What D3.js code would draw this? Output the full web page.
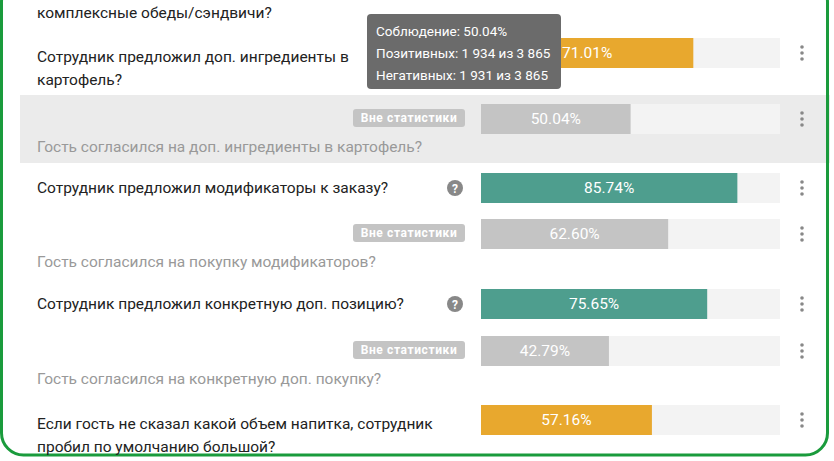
<!DOCTYPE html><html><head><meta charset="utf-8">
<script src="https://cdn.jsdelivr.net/npm/d3@7"></script>
<style>body{margin:0;background:#fff}text{font-family:Roboto,sans-serif}</style></head><body>
<svg id="c" width="834" height="461"></svg>
<script>
const questions=[["Сотрудник предложил доп. ингредиенты в","картофель?"],["Гость согласился на доп. ингредиенты в картофель?"],["Сотрудник предложил модификаторы к заказу?"],["Гость согласился на покупку модификаторов?"],["Сотрудник предложил конкретную доп. позицию?"],["Гость согласился на конкретную доп. покупку?"],["Если гость не сказал какой объем напитка, сотрудник","пробил по умолчанию большой?"]];
const values=[71.01,50.04,85.74,62.60,75.65,42.79,57.16];
const kinds=["orange","out","teal","out","teal","out","orange"];
const barTops=[38,104,173,219,289,336,405];
const help=[false,false,true,false,true,false,false];
const tooltipLines=["Соблюдение: 50.04%","Позитивных: 1 934 из 3 865","Негативных: 1 931 из 3 865"];
const colors={orange:"#e8a82e",teal:"#4e9e8e",out:"#c4c4c4"};
const svg=d3.select("#c");
const x=d3.scaleLinear().domain([0,100]).range([481,780]);
svg.append("rect").attr("x",20).attr("y",95).attr("width",810).attr("height",68).attr("fill","#ebebeb");
svg.append("rect").attr("x",1.5).attr("y",-20).attr("width",826).attr("height",475).attr("rx",22).attr("fill","none").attr("stroke","#1a9b3c").attr("stroke-width",3);
svg.append("text").attr("x",37).attr("y",18).attr("font-size",15.5).attr("fill","#222").text("комплексные обеды/сэндвичи?");
values.forEach((v,i)=>{
 const y0=barTops[i],h=30,g=svg.append("g");
 g.append("rect").attr("x",x(0)).attr("y",y0).attr("width",x(100)-x(0)).attr("height",h).attr("fill","#f3f3f3");
 g.append("rect").attr("x",x(0)).attr("y",y0).attr("width",x(v)-x(0)).attr("height",h).attr("fill",colors[kinds[i]]);
 g.append("text").attr("x",(x(0)+x(v))/2).attr("y",y0+h/2+5).attr("text-anchor","middle").attr("font-size",15.5).attr("fill","#fff").text(v.toFixed(2)+"%");
 [-6,0,6].forEach(d=>g.append("circle").attr("cx",802).attr("cy",y0+h/2+d).attr("r",1.8).attr("fill","#888"));
 if(kinds[i]==="out"){
  g.append("rect").attr("x",353).attr("y",y0+5).attr("width",112).attr("height",18).attr("rx",3).attr("fill","#c4c4c4");
  g.append("text").attr("x",409).attr("y",y0+18).attr("text-anchor","middle").attr("font-size",12).attr("font-weight","bold").attr("letter-spacing",0.6).attr("fill","#fff").text("Вне статистики");
  g.append("text").attr("x",37).attr("y",y0+48).attr("font-size",15.5).attr("fill","#999").text(questions[i][0]);
 } else {
  const lines=questions[i];
  const base=lines.length>1?y0+h/2+9:y0+h/2+5;
  lines.forEach((l,k)=>g.append("text").attr("x",37).attr("y",base+k*23).attr("font-size",15.5).attr("fill","#222").text(l));
  if(help[i]){g.append("circle").attr("cx",455).attr("cy",y0+h/2).attr("r",8).attr("fill","#888");
   g.append("text").attr("x",455).attr("y",y0+h/2+4.5).attr("text-anchor","middle").attr("font-size",12).attr("font-weight","bold").attr("fill","#fff").text("?");}
 }
});
const t=svg.append("g");
t.append("rect").attr("x",367).attr("y",14).attr("width",194).attr("height",75).attr("rx",4).attr("fill","#6b6b6b");
tooltipLines.forEach((l,k)=>t.append("text").attr("x",376).attr("y",36+k*22).attr("font-size",13.5).attr("fill","#fff").text(l));
</script></body></html>
